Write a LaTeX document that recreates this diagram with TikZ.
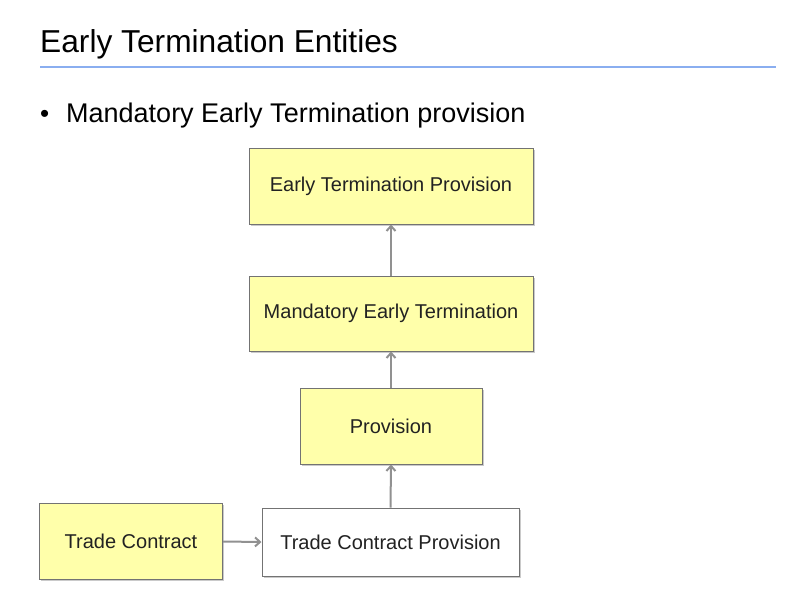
\documentclass[tikz,border=0pt]{standalone}
\usepackage{fontspec}
\setmainfont{Liberation Sans}
\usetikzlibrary{arrows.meta,shadows}
\definecolor{boxyellow}{RGB}{255,255,170}
\definecolor{rulecol}{RGB}{138,174,240}
\definecolor{linkgray}{RGB}{145,145,145}
\definecolor{textdark}{RGB}{34,34,34}
\tikzset{
	entity/.style={draw=gray!90!black, line width=1pt, fill=boxyellow, minimum height=76pt, text=textdark,
		font=\fontsize{20}{22}\selectfont, drop shadow={shadow xshift=1.5pt, shadow yshift=-1.5pt, fill=black!35, opacity=0.6}},
	link/.style={draw=linkgray, line width=2pt, -{Straight Barb[length=5pt,width=9pt]}}
}
\begin{document}
\begin{tikzpicture}[x=1pt,y=-1pt]
		\useasboundingbox (0,0) rectangle (808,606);
		% titolo
		\node[anchor=base west, inner sep=0pt, font=\fontsize{31.7}{34}\selectfont] (title) at (40,52) {Early Termination Entities};
		\draw[rulecol, line width=2pt] (40,66.5) -- (776,66.5);
		\node[anchor=base west, inner sep=0pt, font=\fontsize{26}{28}\selectfont] (bullet) at (40,122) {•};
		\node[anchor=base west, inner sep=0pt, font=\fontsize{27}{30}\selectfont] (item) at (66,122) {Mandatory Early Termination provision};
		% entita
		\node[entity, minimum width=284pt] (etp) at (391,186) {Early Termination Provision};
		\node[entity, minimum width=284pt, minimum height=75pt] (met) at (391,313.5) {Mandatory Early Termination};
		\node[entity, minimum width=182pt] (prov) at (391,426) {Provision};
		\node[entity, minimum width=183pt] (tc) at (131,541.5) {Trade Contract};
		\node[entity, fill=white, minimum width=257pt, minimum height=68pt] (tcp) at (390.5,542) {Trade Contract Provision};
		% collegamenti
		\draw[link] (tcp.north) -- (prov.south);
		\draw[link] (prov.north) -- (met.south);
		\draw[link] (met.north) -- (etp.south);
		\draw[link] (tc.east) -- (tcp.west);
\end{tikzpicture}
\end{document}
